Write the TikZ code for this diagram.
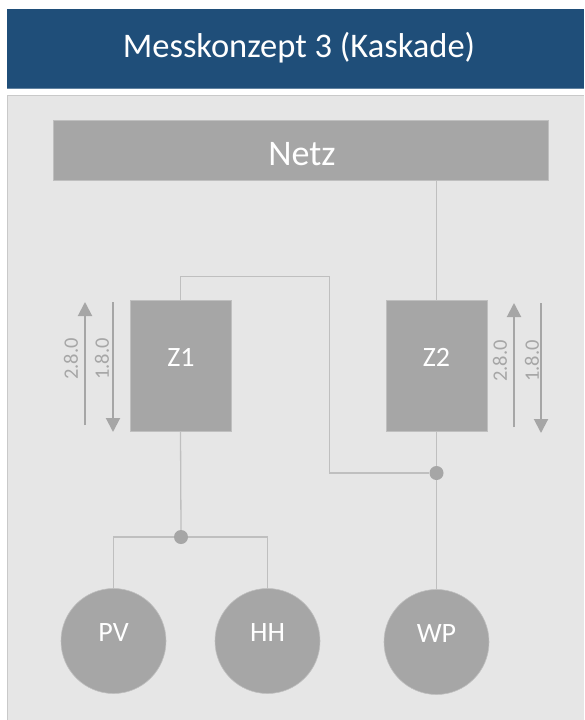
\documentclass[tikz,border=0pt]{standalone}
\usepackage{fontspec}
\setmainfont{Carlito}
\usetikzlibrary{arrows.meta,calc}
\definecolor{hdrblue}{HTML}{1F4E79}
\definecolor{panelgray}{HTML}{E6E6E6}
\definecolor{panelline}{HTML}{C9C9C9}
\definecolor{boxgray}{HTML}{A6A6A6}
\definecolor{wiregray}{HTML}{BFBFBF}
\tikzset{
  x=1pt,y=1pt,
  meterbox/.style={draw=wiregray,line width=0.6pt,fill=boxgray,minimum width=101pt,minimum height=131pt,inner sep=0pt},
  loadcirc/.style={circle,draw=wiregray,line width=0.6pt,fill=boxgray,minimum size=105pt,inner sep=0pt},
  boxtext/.style={text=white,font=\fontsize{28}{32}\selectfont,inner sep=0pt},
  wire/.style={draw=wiregray,line width=1.3pt},
  junction/.style={circle,fill=boxgray,minimum size=14pt,inner sep=0pt},
  flowarrow/.style={draw=boxgray,line width=2pt,-{Triangle[width=14pt,length=14pt]}},
  flowlabel/.style={text=boxgray,rotate=90,font=\fontsize{20.5}{24}\selectfont,inner sep=0pt},
}
\begin{document}
\begin{tikzpicture}
\useasboundingbox (0,0) rectangle (584,-720);
\fill[white] (0,0) rectangle (584,-720);
% header
\fill[hdrblue] (7,-9) rectangle (584,-88);
\draw[color=hdrblue!70!white,line width=0.8pt] (7,-88) -- (584,-88);
\node[text=white,font=\fontsize{34.5}{40}\selectfont] (title) at (299,-48) {Messkonzept 3 (Kaskade)};
% panel
\fill[panelgray] (7,-95) rectangle (584,-720);
\draw[panelline,line width=1.2pt] (7.6,-720) -- (7.6,-95.6) -- (584,-95.6);
% Netz
\node[fill=boxgray,draw=wiregray,line width=0.6pt,minimum width=495pt,minimum height=60pt,inner sep=0pt] (netz) at (300.5,-150) {};
\node[text=white,font=\fontsize{36}{42}\selectfont,inner sep=0pt] (netzt) at (302,-154) {Netz};
% meters
\node[meterbox] (z1) at (180.5,-366) {};
\node[meterbox] (z2) at (436.5,-366) {};
\node[boxtext] (z1t) at (181,-357) {Z1};
\node[boxtext] (z2t) at (436.5,-357) {Z2};
% loads
\node[loadcirc] (pv) at (113.5,-641) {};
\node[loadcirc] (hh) at (267.5,-641) {};
\node[loadcirc] (wp) at (436.5,-642) {};
\node[boxtext] (pvt) at (113.5,-633) {PV};
\node[boxtext] (hht) at (267.5,-633) {HH};
\node[boxtext] (wpt) at (436.5,-634) {WP};
% junctions
\node[junction] (j1) at (181,-537) {};
\node[junction] (j2) at (436.5,-473) {};
\coordinate (c1) at (329.5,-473);
% wires
\draw[wire] (z2.north |- netz.south) -- (z2.north);
\draw[wire] (z1.north) -- ++(0,24) -| (c1) -- (j2.west);
\draw[wire] (z2.south) -- (j2.north);
\draw[wire] (j2.south) -- (wp.north);
\draw[wire] (z1.south) -- (j1.north);
\draw[wire] (j1.west) -| (pv.north);
\draw[wire] (j1.east) -| (hh.north);
% flow arrows Z1
\coordinate (a1s) at (85,-425); \coordinate (a1e) at (85,-302);
\coordinate (b1s) at (113,-302); \coordinate (b1e) at (113,-432);
\draw[flowarrow] (a1s) -- (a1e);
\draw[flowarrow] (b1s) -- (b1e);
\node[flowlabel] (l1a) at (71,-359) {2.8.0};
\node[flowlabel] (l1b) at (102,-359) {1.8.0};
% flow arrows Z2
\coordinate (a2s) at (514,-427); \coordinate (a2e) at (514,-303);
\coordinate (b2s) at (541,-303); \coordinate (b2e) at (541,-433);
\draw[flowarrow] (a2s) -- (a2e);
\draw[flowarrow] (b2s) -- (b2e);
\node[flowlabel] (l2a) at (500,-361) {2.8.0};
\node[flowlabel] (l2b) at (532,-361) {1.8.0};
\end{tikzpicture}
\end{document}
